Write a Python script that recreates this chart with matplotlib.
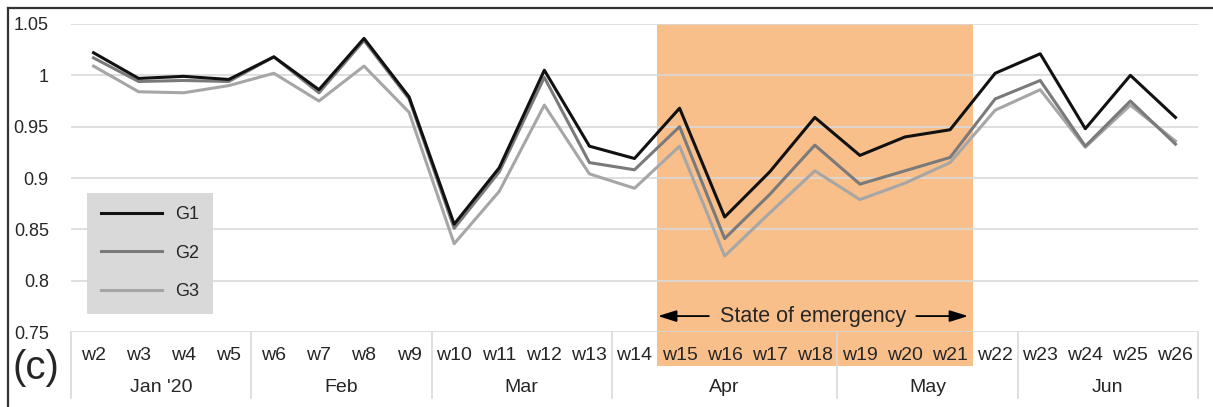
import matplotlib
matplotlib.use("Agg")
import matplotlib.pyplot as plt
from matplotlib.lines import Line2D
from matplotlib.patches import Rectangle

plt.rcParams['font.family'] = ['Liberation Sans', 'DejaVu Sans']

# data
weeks = ["w2", "w3", "w4", "w5", "w6", "w7", "w8", "w9", "w10", "w11", "w12", "w13",
         "w14", "w15", "w16", "w17", "w18", "w19", "w20", "w21", "w22", "w23", "w24",
         "w25", "w26"]
months = ["Jan '20", "Feb", "Mar", "Apr", "May", "Jun"]
month_sizes = [4, 4, 4, 5, 4, 4]

g1 = [1.022, 0.997, 0.999, 0.996, 1.018, 0.986, 1.036, 0.979, 0.855, 0.910, 1.005, 0.931,
      0.919, 0.968, 0.862, 0.906, 0.959, 0.922, 0.940, 0.947, 1.002, 1.021, 0.948, 1.000, 0.959]
g2 = [1.017, 0.994, 0.995, 0.994, 1.018, 0.983, 1.034, 0.977, 0.851, 0.906, 0.998, 0.915,
      0.908, 0.950, 0.841, 0.884, 0.932, 0.894, 0.907, 0.920, 0.977, 0.995, 0.931, 0.975, 0.933]
g3 = [1.009, 0.984, 0.983, 0.990, 1.002, 0.975, 1.009, 0.964, 0.836, 0.887, 0.971, 0.904,
      0.890, 0.931, 0.824, 0.866, 0.907, 0.879, 0.895, 0.915, 0.966, 0.986, 0.930, 0.971, 0.936]

yticks = [0.75, 0.8, 0.85, 0.9, 0.95, 1.0, 1.05]
ylabels = ["0.75", "0.8", "0.85", "0.9", "0.95", "1", "1.05"]

emergency_start = "w15"
emergency_end = "w21"

W, H = 1213, 407
fig = plt.figure(figsize=(W / 100, H / 100), dpi=100)
ax = fig.add_axes([71 / W, 1 - 332 / H, (1198 - 71) / W, 308 / H])

x = list(range(len(weeks)))
ax.set_xlim(-0.5, len(weeks) - 0.5)
ax.set_ylim(0.75, 1.05)
ax.set_yticks(yticks, ylabels)
ax.set_xticks([])
ax.tick_params(axis='y', length=0, pad=16, labelsize=13, labelcolor="#262626")
ax.grid(axis='y', color='#d9d9d9', lw=1.2)
ax.set_axisbelow(True)
for s in ax.spines.values():
    s.set_visible(False)

trans = ax.get_xaxis_transform()
ah = 308.0

# state of emergency shading
i0 = weeks.index(emergency_start) - 0.5
i1 = weeks.index(emergency_end) + 0.5
ax.add_patch(Rectangle((i0, -34 / ah), i1 - i0, 1 + 34 / ah, transform=trans,
                       facecolor='#f9bf8b', edgecolor='none', clip_on=False, zorder=0.2))

# lines
ax.plot(x, g3, color='#a6a6a6', lw=2.2, label='G3', zorder=3)
ax.plot(x, g2, color='#7a7a7a', lw=2.2, label='G2', zorder=4)
ax.plot(x, g1, color='#111111', lw=2.2, label='G1', zorder=5)

handles, labels = ax.get_legend_handles_labels()
leg = ax.legend(handles[::-1], labels[::-1], loc='lower left',
                bbox_to_anchor=(16 / 1127, 18 / ah), frameon=True, facecolor='#d9d9d9',
                edgecolor='none', fancybox=False, framealpha=1, fontsize=13,
                handlelength=3.4, handletextpad=0.75, labelspacing=1.2, borderpad=0.75,
                borderaxespad=0)
for t in leg.get_texts():
    t.set_color('#262626')

# category axis: weeks and months
for i, w in enumerate(weeks):
    ax.text(i, -23 / ah, w, transform=trans, ha='center', va='center', fontsize=14,
            color='#262626', zorder=6)
bounds = [-0.5]
for n in month_sizes:
    bounds.append(bounds[-1] + n)
for k, m in enumerate(months):
    ax.text((bounds[k] + bounds[k + 1]) / 2, -56 / ah, m, transform=trans, ha='center',
            va='center', fontsize=14, color='#262626')
for b in bounds:
    ax.plot([b, b], [0, -66 / ah], transform=trans, clip_on=False, color='#d9d9d9', lw=1.2)

# arrows and label
ya = 0.7655
arrow = dict(arrowstyle='-|>,head_length=0.8,head_width=0.25', color='black', lw=1.3,
             mutation_scale=14, shrinkA=0, shrinkB=0)
ax.annotate('', xy=(i0 + 0.02, ya), xytext=(13.65, ya), arrowprops=arrow)
ax.annotate('', xy=(i1 - 0.1, ya), xytext=(18.25, ya), arrowprops=arrow)
ax.text(15.95, ya, 'State of emergency', ha='center', va='center', fontsize=15.5,
        color='#262626')

# outer frame (cropped) and panel letter
fig.add_artist(Line2D([8 / W, 1], [1 - 8 / H, 1 - 8 / H], color='#333333', lw=1.6))
fig.add_artist(Line2D([8 / W, 8 / W], [0, 1 - 8 / H], color='#333333', lw=1.6))
fig.text(36 / W, 1 - 368 / H, '(c)', fontsize=29, ha='center', va='center', color='#262626')

fig.savefig('out.png', dpi=100)
